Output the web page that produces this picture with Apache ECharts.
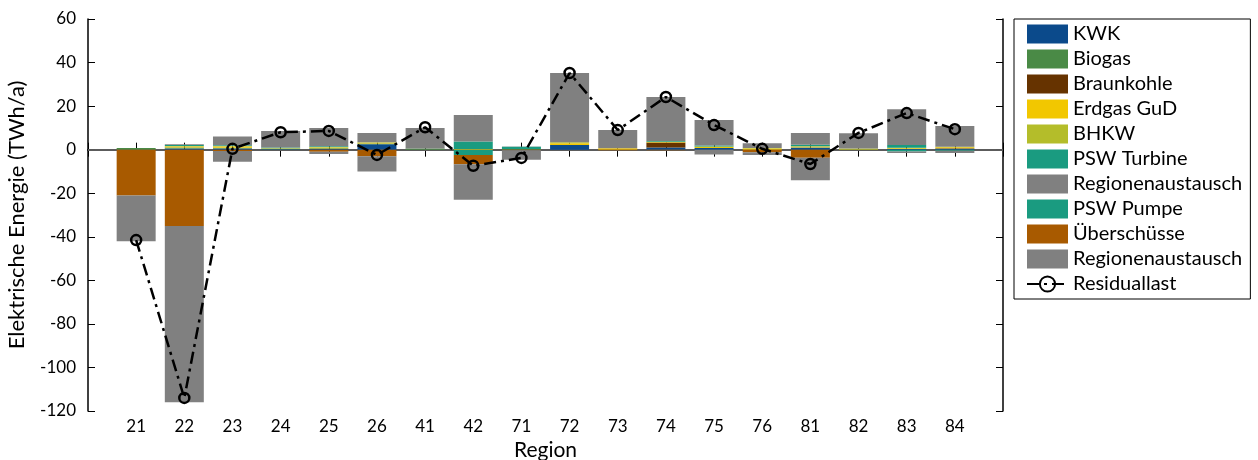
<!DOCTYPE html>
<html>
<head>
<meta charset="utf-8">
<script src="https://cdn.jsdelivr.net/npm/echarts@6/dist/echarts.min.js"></script>
<style>
  html, body { margin: 0; padding: 0; background: #fff; }
  #chart { width: 1258px; height: 460px; }
</style>
</head>
<body>
<div id="chart"></div>
<script>
const regions = ['21', '22', '23', '24', '25', '26', '41', '42', '71', '72', '73', '74', '75', '76', '81', '82', '83', '84'];

// positive contributions (TWh/a)
const kwk        = [0, 0.5, 0.5, 0.2, 0.3, 2.5, 0, 0, 0, 2.2, 0, 1.0, 0.8, 0, 1.0, 0, 0.3, 0.4];
const biogas     = [0.8, 0.5, 0.4, 0.2, 0.3, 0.3, 0.5, 0, 0.3, 0, 0, 0, 0, 0, 0, 0, 0, 0];
const braunkohle = [0, 0, 0, 0, 0, 0, 0, 0, 0, 0, 0, 2.3, 0, 0, 0, 0, 0, 0.3];
const erdgasGuD  = [0, 0.4, 0.5, 0.3, 0.4, 0.4, 0, 0.3, 0, 0.8, 0.7, 0.3, 0.4, 0.5, 0.4, 0, 0.4, 0.4];
const bhkw       = [0, 0.3, 0.3, 0, 0.2, 0.2, 0, 0, 0, 0.4, 0, 0, 0.3, 0.3, 0.2, 0.5, 0.2, 0.2];
const pswTurbine = [0, 0.4, 0.3, 0.3, 0.4, 0, 0, 3.4, 1.0, 0, 0, 0.4, 0.4, 0, 0.7, 0, 1.3, 0];
const austauschIn = [0, 0.4, 4.0, 7.6, 8.4, 4.3, 9.5, 12.2, 0.2, 31.8, 8.3, 20.2, 11.7, 2.2, 5.3, 7.0, 16.4, 9.6];

// negative contributions
const pswPumpe     = [0, 0, 0, 0, 0, 0, 0, -2.5, 0, 0, 0, 0, 0, 0, 0, 0, -0.8, -0.5];
const ueberschuss  = [-21, -35, -0.6, 0, -1.0, -3.0, 0, -4.2, -0.3, 0, -0.3, -0.3, 0, -1.2, -3.7, 0, 0, 0];
const austauschOut = [-21, -81, -4.9, 0, -1.0, -7.0, 0, -16.3, -4.3, 0, 0, 0, -2.2, -1.3, -10.3, 0, -0.7, -1.0];

const residuallast = [-41.5, -114, 0.4, 8, 8.6, -2.4, 10.3, -7.4, -3.8, 35.2, 9, 24.2, 11.3, 0.4, -6.6, 7.7, 16.8, 9.4];

const FONT = 'Lato';

const barDefs = [
  ['KWK', kwk, '#0b4a8b'],
  ['Biogas', biogas, '#4a8a46'],
  ['Braunkohle', braunkohle, '#663300'],
  ['Erdgas GuD', erdgasGuD, '#f2c700'],
  ['BHKW', bhkw, '#b4bd2a'],
  ['PSW Turbine', pswTurbine, '#1a9b80'],
  ['Regionenaustausch', austauschIn, '#808080'],
  ['PSW Pumpe', pswPumpe, '#1a9b80'],
  ['Überschüsse', ueberschuss, '#a85a00'],
  ['Regionenaustausch ', austauschOut, '#808080']
];

// x range runs from 0 to 19 like the original, so pad one empty slot on each side
const cats = [''].concat(regions, ['']);
const pad = arr => ['-'].concat(arr, ['-']);

const series = barDefs.map(([name, arr, color], k) => {
  const s = {
    name: name,
    type: 'bar',
    stack: 'total',
    barWidth: 39,
    itemStyle: { color: color },
    data: pad(arr),
    z: 2
  };
  if (k === 0) {
    s.markLine = {
      silent: true,
      symbol: 'none',
      label: { show: false },
      lineStyle: { color: '#777', width: 1.5, type: 'solid' },
      data: [{ yAxis: 0 }],
      z: 1
    };
  }
  return s;
});

series.push({
  name: 'Residuallast',
  type: 'line',
  data: pad(residuallast),
  symbol: 'circle',
  symbolSize: 10,
  itemStyle: { color: 'rgba(0,0,0,0)', borderColor: '#000', borderWidth: 2.5 },
  lineStyle: { color: '#000', width: 2.5, type: [12, 5, 3, 5] },
  z: 5
});

const legendData = barDefs.map(d => ({ name: d[0], icon: 'rect' }));
legendData.push({ name: 'Residuallast' });

const xBase = {
  type: 'category',
  data: cats,
  boundaryGap: false,
  axisLine: { lineStyle: { color: '#000', width: 1.5 } },
  axisTick: { inside: true, length: 7, interval: 0, lineStyle: { color: '#000' } },
  splitLine: { show: false }
};

const chart = echarts.init(document.getElementById('chart'));
chart.setOption({
  animation: false,
  backgroundColor: '#fff',
  textStyle: { fontFamily: FONT },
  grid: { left: 88, right: 255, top: 19, bottom: 49, outerBoundsMode: 'none' },
  legend: {
    orient: 'vertical',
    left: 1014,
    top: 19,
    padding: [5, 3, 5, 12],
    borderColor: '#000',
    borderWidth: 1,
    itemWidth: 41,
    itemHeight: 19,
    itemGap: 5,
    textStyle: { fontFamily: FONT, fontSize: 20, color: '#000' },
    data: legendData
  },
  xAxis: [
    Object.assign({}, xBase, {
      name: 'Region',
      nameLocation: 'middle',
      nameGap: 23,
      nameTextStyle: { fontFamily: FONT, fontSize: 21, color: '#000' },
      axisLabel: { fontFamily: FONT, fontSize: 17, color: '#000', margin: 7, interval: 0 }
    }),
    Object.assign({}, xBase, {
      position: 'top',
      axisLabel: { show: false }
    })
  ],
  yAxis: [
    {
      type: 'value',
      min: -120,
      max: 60,
      interval: 20,
      name: 'Elektrische Energie (TWh/a)',
      nameLocation: 'middle',
      nameGap: 60,
      nameTextStyle: { fontFamily: FONT, fontSize: 22, color: '#000' },
      axisLine: { show: true, lineStyle: { color: '#000', width: 1.5 } },
      axisTick: { show: true, inside: true, length: 7, lineStyle: { color: '#000' } },
      axisLabel: { fontFamily: FONT, fontSize: 17, color: '#000', margin: 12 },
      splitLine: { show: false }
    },
    {
      type: 'value',
      position: 'right',
      min: -120,
      max: 60,
      interval: 20,
      axisLine: { show: true, lineStyle: { color: '#000', width: 1.5 } },
      axisTick: { show: true, inside: true, length: 7, lineStyle: { color: '#000' } },
      axisLabel: { show: false },
      splitLine: { show: false }
    }
  ],
  series: series
});
</script>
</body>
</html>
